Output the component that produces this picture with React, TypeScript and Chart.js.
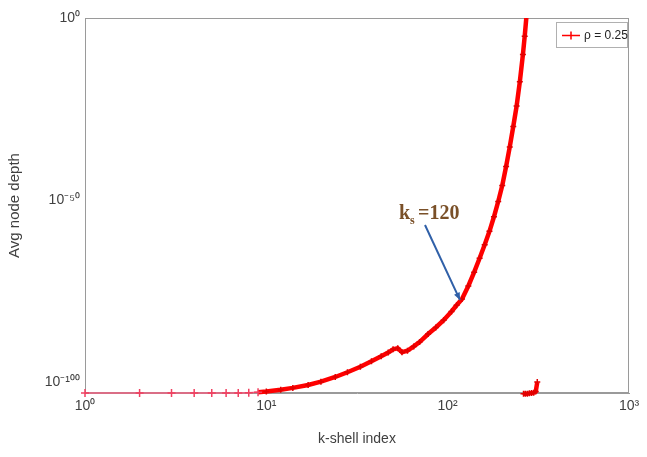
import React, { useEffect, useRef } from 'react';
import { Chart, registerables } from 'chart.js';

Chart.register(...registerables);

// k-shell index values and log10 of the average node depth
const kValues = [1, 2, 3, 4, 5, 6, 7, 8, 9, 10, 12, 14, 17, 20, 24, 28, 33, 38, 43, 47, 50, 53, 56, 60, 65, 70, 78, 86, 95, 105, 112, 120, 130, 140, 150, 160, 170, 180, 190, 200, 210, 220, 230, 240, 250, 260, 266, 272];
const depthExponents = [-103, -103, -103, -103, -103, -103, -103, -102.9, -102.8, -102.6, -102.1, -101.6, -100.8, -99.9, -98.6, -97.3, -95.8, -94.3, -92.9, -91.9, -91, -90.7, -91.8, -91.4, -90.2, -89, -86.8, -85, -83, -80.6, -78.9, -77.2, -73.6, -69.8, -66, -62.3, -58.6, -54.6, -50.4, -46, -40.8, -35.4, -29.8, -24.2, -17.5, -10, -5, 0.5];
const tailK = [262, 268, 275, 282, 290, 298, 306, 312];
const tailExponents = [-103.2, -103.2, -103.2, -103.1, -103, -102.9, -102.6, -100];

const xTicks = [1, 10, 100, 1000];
const xTickLabels = ['10⁰', '10¹', '10²', '10³'];
const yTicks = [1e-100, 1e-50, 1];
const yTickLabels = ['10⁻¹⁰⁰', '10⁻⁵⁰', '10⁰'];

const legendLabel = 'ρ = 0.25';
const annotationK = 120;
const annotationText = '=120';

const RED = '#ff0000';
const AXIS = '#9a9a9a';
const TEXT = '#404040';
const FLOOR = Math.pow(10, -102.75);

export default function App() {
  const canvasRef = useRef<HTMLCanvasElement | null>(null);

  useEffect(() => {
    document.body.style.margin = '0';
    const canvas = canvasRef.current;
    if (!canvas) return;

    const mainData = kValues.map((k, i) => ({ x: k, y: Math.pow(10, depthExponents[i]) }));
    const tailData = tailK.map((k, i) => ({ x: k, y: Math.pow(10, tailExponents[i]) }));

    const framePlugin = {
      id: 'frame',
      beforeDatasetsDraw(chart: any) {
        const { ctx, chartArea: a } = chart;
        ctx.save();
        ctx.strokeStyle = AXIS;
        ctx.lineWidth = 1;
        ctx.strokeRect(a.left + 0.5, a.top + 0.5, a.right - a.left - 1, a.bottom - a.top - 1);
        ctx.restore();
      },
    };

    const overlayPlugin = {
      id: 'overlay',
      afterDatasetsDraw(chart: any) {
        const { ctx, chartArea: a } = chart;
        const xs = chart.scales.x;
        const ys = chart.scales.y;
        // annotation arrow to k = 120
        const idx = kValues.indexOf(annotationK);
        const tipX = xs.getPixelForValue(annotationK) - 2;
        const tipY = ys.getPixelForValue(Math.pow(10, depthExponents[idx])) + 1;
        const sx = 425;
        const sy = 225;
        ctx.save();
        ctx.strokeStyle = '#3060a8';
        ctx.fillStyle = '#3060a8';
        ctx.lineWidth = 2;
        ctx.beginPath();
        ctx.moveTo(sx, sy);
        ctx.lineTo(tipX, tipY);
        ctx.stroke();
        const ang = Math.atan2(tipY - sy, tipX - sx);
        const hl = 8;
        ctx.beginPath();
        ctx.moveTo(tipX, tipY);
        ctx.lineTo(tipX - hl * Math.cos(ang - 0.4), tipY - hl * Math.sin(ang - 0.4));
        ctx.lineTo(tipX - hl * Math.cos(ang + 0.4), tipY - hl * Math.sin(ang + 0.4));
        ctx.closePath();
        ctx.fill();

        // annotation text
        ctx.fillStyle = '#7a5028';
        ctx.textBaseline = 'alphabetic';
        ctx.font = 'bold 20px "Liberation Serif"';
        ctx.fillText('k', 399, 219);
        ctx.font = 'bold 12px "Liberation Serif"';
        ctx.fillText('s', 410, 224);
        ctx.font = 'bold 20px "Liberation Serif"';
        ctx.fillText(annotationText, 418, 219);

        // legend box
        const bx = 556;
        const by = a.top + 4;
        const bw = a.right - 2 - bx;
        const bh = 25;
        ctx.fillStyle = '#ffffff';
        ctx.fillRect(bx, by, bw, bh);
        ctx.strokeStyle = '#b0b0b0';
        ctx.lineWidth = 1;
        ctx.strokeRect(bx + 0.5, by + 0.5, bw, bh);
        const ly = by + bh / 2 + 1;
        ctx.strokeStyle = RED;
        ctx.lineWidth = 1.5;
        ctx.beginPath();
        ctx.moveTo(562, ly);
        ctx.lineTo(580, ly);
        ctx.moveTo(571, ly - 4);
        ctx.lineTo(571, ly + 4);
        ctx.moveTo(567, ly);
        ctx.lineTo(575, ly);
        ctx.stroke();
        ctx.fillStyle = '#222';
        ctx.font = '12px "Liberation Sans"';
        ctx.textBaseline = 'middle';
        ctx.fillText(legendLabel, 584, ly);
        ctx.restore();
      },
    };

    const isFloor = (v: number) => v < FLOOR;

    const chart = new Chart(canvas, {
      type: 'line',
      data: {
        datasets: [
          {
            label: legendLabel,
            data: mainData,
            borderColor: RED,
            backgroundColor: RED,
            borderWidth: 4.5,
            pointStyle: 'cross',
            pointRadius: (c: any) => (c.raw && isFloor(c.raw.y) ? 4 : 3),
            pointBorderWidth: 1.5,
            pointBorderColor: (c: any) => (c.raw && isFloor(c.raw.y) ? '#f04060' : '#e00000'),
            tension: 0,
            fill: false,
            clip: { left: 6, top: 0, right: 0, bottom: 6 },
            segment: {
              borderWidth: (c: any) => (isFloor(c.p0.parsed.y) && isFloor(c.p1.parsed.y) ? 1.5 : 4.5),
              borderColor: (c: any) => (isFloor(c.p0.parsed.y) && isFloor(c.p1.parsed.y) ? '#f06080' : RED),
            },
          },
          {
            label: legendLabel + ' tail',
            data: tailData,
            borderColor: RED,
            backgroundColor: RED,
            borderWidth: 4.5,
            pointStyle: 'cross',
            pointRadius: 3,
            pointBorderWidth: 1.5,
            pointBorderColor: '#e00000',
            tension: 0,
            fill: false,
            clip: { left: 0, top: 0, right: 0, bottom: 6 },
          },
        ],
      },
      options: {
        responsive: false,
        animation: false,
        layout: { padding: { top: 18, right: 18, left: 0, bottom: 0 } },
        plugins: { legend: { display: false }, tooltip: { enabled: false } },
        scales: {
          x: {
            type: 'logarithmic',
            min: 1,
            max: 1000,
            afterBuildTicks: (scale: any) => {
              scale.ticks = xTicks.map((v) => ({ value: v }));
            },
            afterFit: (scale: any) => {
              scale.height = 64;
            },
            ticks: {
              autoSkip: false,
              maxRotation: 0,
              padding: 5,
              color: TEXT,
              font: { family: '"Liberation Sans"', size: 14 },
              callback: (_v: any, i: number) => xTickLabels[i],
            },
            grid: { display: true, drawOnChartArea: false, drawTicks: false },
            border: { display: true, color: AXIS },
            title: {
              display: true,
              text: 'k-shell index',
              color: TEXT,
              font: { family: '"Liberation Sans"', size: 14 },
              padding: { top: 0, bottom: 9 },
            },
          },
          y: {
            type: 'logarithmic',
            min: 1e-103,
            max: 1,
            afterBuildTicks: (scale: any) => {
              scale.ticks = yTicks.map((v) => ({ value: v }));
            },
            afterFit: (scale: any) => {
              scale.width = 85;
            },
            ticks: {
              autoSkip: false,
              padding: 5,
              color: TEXT,
              font: { family: '"Liberation Sans"', size: 14 },
              callback: (_v: any, i: number) => yTickLabels[i],
            },
            grid: { display: true, drawOnChartArea: false, drawTicks: false },
            border: { display: true, color: AXIS },
            title: {
              display: true,
              text: 'Avg node depth',
              color: TEXT,
              font: { family: '"Liberation Sans"', size: 15 },
              padding: { top: 6, bottom: 0 },
            },
          },
        },
      },
      plugins: [framePlugin, overlayPlugin],
    });

    return () => {
      chart.destroy();
    };
  }, []);

  return (
    <div style={{ width: 647, height: 457 }}>
      <canvas ref={canvasRef} width={647} height={457} />
    </div>
  );
}
